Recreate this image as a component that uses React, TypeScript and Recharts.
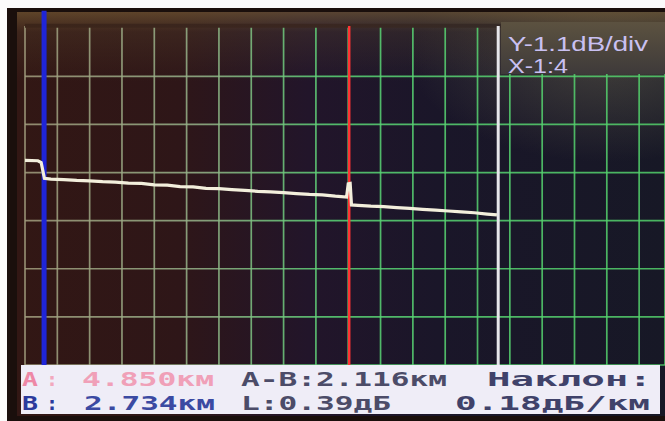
import React from 'react';
import { LineChart, Line, XAxis, YAxis, CartesianGrid, ReferenceLine, ReferenceArea } from 'recharts';

// trace position in grid divisions (X) and level in dB (Y, 1.1 dB/div)
const traceDiv = [
  0, 0.4, 0.5, 0.6, 0.8, 1.2, 1.6, 2.0, 2.4, 2.8, 3.2, 3.6, 4.0, 4.4, 4.8, 5.2, 5.6, 6.0, 6.4, 6.8, 7.2,
  7.6, 8.0, 8.4, 8.8, 9.2, 9.6, 9.95, 10.0, 10.06, 10.1, 10.3, 10.7, 11.1, 11.5, 11.9, 12.3, 12.7, 13.1,
  13.5, 13.9, 14.3, 14.6,
];
const traceDb = [
  4.68, 4.67, 4.63, 4.27, 4.25, 4.24, 4.22, 4.21, 4.19, 4.18, 4.16, 4.15, 4.12, 4.11, 4.08, 4.07, 4.04,
  4.03, 4.01, 3.99, 3.97, 3.96, 3.94, 3.92, 3.9, 3.89, 3.86, 3.84, 4.14, 4.15, 3.66, 3.65, 3.63, 3.62,
  3.6, 3.58, 3.56, 3.54, 3.52, 3.5, 3.48, 3.45, 3.43,
];

const xTicks = [0, 1, 2, 3, 4, 5, 6, 7, 8, 9, 10, 11, 12, 13, 14, 15, 16, 17, 18, 19];
const yTicks = [1.1, 2.2, 3.3, 4.4, 5.5, 6.6];

// cursors
const cursorB = 0.59;
const cursorA = 10.03;
const cursorEnd = 14.64;

const scaleLabels = ['Y-1.1dB/div', 'X-1:4'];
const rowA = ['A', ':', '4.850км', 'A-B:2.116км', 'Наклон:'];
const rowB = ['B', ':', '2.734км', 'L:0.39дБ', '0.18дБ/км'];

const data = traceDiv.map((x, i) => ({ x, db: traceDb[i] }));

const mono = '"DejaVu Sans Mono", monospace';

export default function App() {
  return (
    <div style={{ position: 'absolute', left: 0, top: 0, width: 665, height: 421, background: '#fbfbfb', overflow: 'hidden' }}>
      <div style={{ position: 'absolute', left: 7, top: 8, width: 658, height: 413, background: '#1a0f0c' }} />
      <div
        style={{
          position: 'absolute', left: 17, top: 12, width: 648, height: 404,
          background:
            'linear-gradient(180deg, rgba(125,98,55,0.6) 0px, rgba(90,70,45,0.3) 20px, rgba(0,0,0,0) 70px),' +
            'radial-gradient(ellipse 200px 110px at 590px 40px, rgba(110,105,80,0.5), rgba(0,0,0,0)),' +
            'linear-gradient(90deg, #321714 0%, #2e1618 25%, #22152a 45%, #1a1629 65%, #171826 100%)',
        }}
      />
      <div style={{ position: 'absolute', left: 0, top: 0 }}>
        <LineChart width={665} height={421} data={data} margin={{ top: 26, right: 0, bottom: 56, left: 25 }}>
          <defs>
            <linearGradient id="gridTint" x1="0" y1="0" x2="665" y2="0" gradientUnits="userSpaceOnUse">
              <stop offset="0" stopColor="#a39a7c" />
              <stop offset="0.3" stopColor="#96b48a" />
              <stop offset="0.5" stopColor="#5ad676" />
              <stop offset="1" stopColor="#52cf6a" />
            </linearGradient>
            <linearGradient id="edgeTint" x1="0" y1="0" x2="665" y2="0" gradientUnits="userSpaceOnUse">
              <stop offset="0" stopColor="#3c2519" />
              <stop offset="0.45" stopColor="#3a2620" />
              <stop offset="0.75" stopColor="#352a26" />
              <stop offset="1" stopColor="#3a3430" />
            </linearGradient>
          </defs>
          <XAxis type="number" dataKey="x" domain={[0, 19.8]} ticks={xTicks} hide />
          <YAxis type="number" domain={[0, 7.75]} ticks={yTicks} hide />
          <CartesianGrid stroke="url(#gridTint)" strokeWidth={1.7} strokeOpacity={0.85} />
          {/* the screen shows no frame line along the top edge */}
          <ReferenceArea y1={7.71} y2={7.8} ifOverflow="visible" fill="url(#edgeTint)" fillOpacity={1} stroke="none" />
          <ReferenceLine
            segment={[{ x: cursorB, y: 0 }, { x: cursorB, y: 8.1 }]}
            ifOverflow="visible"
            stroke="#1f25d8"
            strokeWidth={5}
          />
          <ReferenceLine x={cursorA} stroke="#ff3434" strokeWidth={2.5} />
          <ReferenceLine x={cursorEnd} stroke="#e6e6ea" strokeWidth={3} />
          <Line
            type="linear"
            dataKey="db"
            stroke="#f3efdc"
            strokeWidth={3.2}
            dot={false}
            isAnimationActive={false}
          />
        </LineChart>
      </div>
      <svg width={665} height={421} style={{ position: 'absolute', left: 0, top: 0 }}>
        <defs>
          <linearGradient id="labelBox" x1="0" y1="0" x2="0" y2="1">
            <stop offset="0" stopColor="#5c5240" />
            <stop offset="1" stopColor="#3e3a3a" />
          </linearGradient>
        </defs>
        <rect x={501} y={22} width={164} height={52} fill="url(#labelBox)" />
        <text x={508} y={51} fontFamily='"Liberation Sans", sans-serif' fontSize={20} fill="#c9c0f2" textLength={140} lengthAdjust="spacingAndGlyphs">
          {scaleLabels[0]}
        </text>
        <text x={508} y={73} fontFamily='"Liberation Sans", sans-serif' fontSize={20} fill="#c9c0f2" textLength={60} lengthAdjust="spacingAndGlyphs">
          {scaleLabels[1]}
        </text>
        <rect x={21} y={365} width={639} height={49} fill="#efedf7" />
        <g fontFamily={mono} fontSize={20} fontWeight="bold">
          <text x={22} y={386} fill="#ee88a6" textLength={16} lengthAdjust="spacingAndGlyphs">{rowA[0]}</text>
          <text x={46} y={386} fill="#f2a8bd">{rowA[1]}</text>
          <text x={82} y={386} fill="#f0a0b8" textLength={132} lengthAdjust="spacingAndGlyphs">{rowA[2]}</text>
          <text x={241} y={386} fill="#4c4c68" textLength={206} lengthAdjust="spacingAndGlyphs">{rowA[3]}</text>
          <text x={487} y={386} fill="#40426a" textLength={165} lengthAdjust="spacingAndGlyphs">{rowA[4]}</text>
          <text x={22} y={410} fill="#2b3a9c" textLength={16} lengthAdjust="spacingAndGlyphs">{rowB[0]}</text>
          <text x={46} y={410} fill="#2b3a9c">{rowB[1]}</text>
          <text x={84} y={410} fill="#3b4aa2" textLength={131} lengthAdjust="spacingAndGlyphs">{rowB[2]}</text>
          <text x={241} y={410} fill="#4c4c68" textLength={150} lengthAdjust="spacingAndGlyphs">{rowB[3]}</text>
          <text x={455} y={410} fill="#40426a" textLength={195} lengthAdjust="spacingAndGlyphs">{rowB[4]}</text>
        </g>
      </svg>
    </div>
  );
}
